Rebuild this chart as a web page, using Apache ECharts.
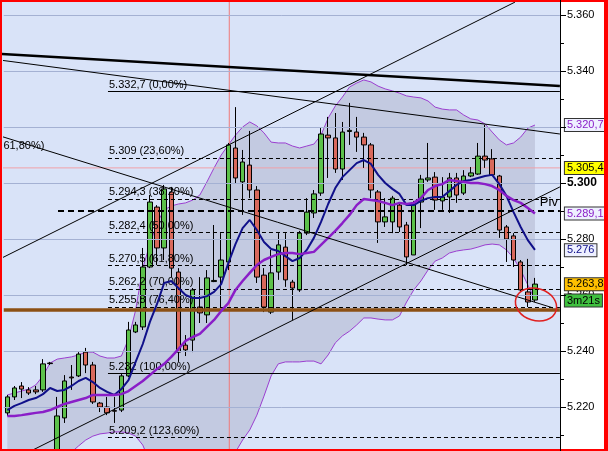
<!DOCTYPE html>
<html><head><meta charset="utf-8">
<script src="https://cdn.jsdelivr.net/npm/echarts/dist/echarts.min.js"></script>
<style>html,body{margin:0;padding:0;background:#fff;overflow:hidden}#c{width:608px;height:451px}</style>
</head><body><div id="c"></div>
<script>
const FONT = "'Liberation Sans', Arial, sans-serif";

const categories = ['1','2','3','4','5','6','7','8','9','10','11','12','13','14','15','16','17','18','19','20',
 '21','22','23','24','25','26','27','28','29','30','31','32','33','34','35','36','37','38','39','40',
 '41','42','43','44','45','46','47','48','49','50','51','52','53','54','55','56','57','58','59','60',
 '61','62','63','64','65','66','67','68','69','70','71','72','73','74','75','','',''];

const opens = [5.2179,5.2236,5.2275,5.2261,5.2261,5.2261,5.2357,5.2039,5.2161,5.2307,
 5.2311,5.2396,5.2350,5.2214,5.2200,5.2187,5.2189,5.2311,5.2468,5.2486,
 5.2700,5.2914,5.2768,5.2968,5.2682,5.2421,5.2439,5.2557,5.2529,5.2648,
 5.2664,5.2718,5.3125,5.3004,5.3064,5.2975,5.2671,5.2539,5.2682,5.2771,
 5.2646,5.2618,5.2821,5.2893,5.2964,5.3171,5.3161,5.3050,5.3184,5.3182,
 5.3164,5.3136,5.2968,5.2861,5.2861,5.2921,5.2850,5.2743,5.2932,5.3011,
 5.3021,5.2936,5.2950,5.3018,5.2964,5.3025,5.3032,5.3096,5.3086,5.3025,
 5.2843,5.2811,5.2718,5.2611,5.2582];
const highs = [5.2243,5.2275,5.2289,5.2271,5.2275,5.2371,5.2361,5.2236,5.2314,5.2350,
 5.2396,5.2411,5.2361,5.2218,5.2236,5.2236,5.2321,5.2504,5.2504,5.2768,
 5.2957,5.2921,5.2993,5.2986,5.2696,5.2457,5.2625,5.2664,5.2689,5.2850,
 5.2821,5.3143,5.3271,5.3118,5.3186,5.2989,5.2696,5.2761,5.2821,5.2821,
 5.2654,5.2829,5.2946,5.2975,5.3200,5.3236,5.3250,5.3218,5.3286,5.3236,
 5.3179,5.3143,5.2975,5.2946,5.2954,5.2932,5.2861,5.2936,5.3029,5.3143,
 5.3039,5.3021,5.3036,5.3036,5.3046,5.3057,5.3143,5.3207,5.3121,5.3029,
 5.2850,5.2821,5.2725,5.2729,5.2661];
const lows = [5.2168,5.2225,5.2232,5.2243,5.2246,5.2254,5.2350,5.2030,5.2143,5.2261,
 5.2307,5.2321,5.2211,5.2182,5.2171,5.2143,5.2182,5.2307,5.2464,5.2475,
 5.2696,5.2707,5.2725,5.2664,5.2361,5.2382,5.2396,5.2500,5.2500,5.2646,
 5.2557,5.2689,5.3000,5.2886,5.2946,5.2643,5.2539,5.2532,5.2654,5.2629,
 5.2511,5.2611,5.2814,5.2875,5.2954,5.3018,5.3036,5.3011,5.3136,5.3111,
 5.3054,5.2946,5.2786,5.2843,5.2821,5.2825,5.2707,5.2743,5.2839,5.3004,
 5.2904,5.2904,5.2893,5.2929,5.2957,5.3021,5.3029,5.3054,5.3025,5.2804,
 5.2718,5.2700,5.2611,5.2557,5.2575];
const closes = [5.2236,5.2268,5.2264,5.2250,5.2254,5.2354,5.2355,5.2168,5.2293,5.2304,
 5.2389,5.2350,5.2218,5.2200,5.2179,5.2185,5.2311,5.2475,5.2493,5.2700,
 5.2932,5.2768,5.2979,5.2696,5.2396,5.2404,5.2618,5.2536,5.2661,5.2652,
 5.2725,5.3136,5.3018,5.3075,5.2975,5.2664,5.2557,5.2679,5.2779,5.2654,
 5.2625,5.2821,5.2896,5.2961,5.3175,5.3161,5.3050,5.3182,5.3188,5.3164,
 5.3136,5.2975,5.2861,5.2879,5.2946,5.2843,5.2736,5.2929,5.3014,5.3018,
 5.2939,5.2950,5.3018,5.2957,5.3025,5.3036,5.3096,5.3082,5.3029,5.2832,
 5.2800,5.2725,5.2618,5.2575,5.2639];

const maFast = [5.2189,5.2204,5.2214,5.2225,5.2232,5.2246,5.2268,5.2257,5.2261,5.2275,
 5.2293,5.2304,5.2289,5.2268,5.2254,5.2243,5.2264,5.2296,5.2361,5.2425,
 5.2504,5.2568,5.2643,5.2650,5.2625,5.2600,5.2589,5.2589,5.2596,5.2611,
 5.2639,5.2714,5.2782,5.2839,5.2868,5.2832,5.2789,5.2764,5.2757,5.2739,
 5.2721,5.2732,5.2761,5.2804,5.2861,5.2925,5.2982,5.3021,5.3046,5.3071,
 5.3082,5.3068,5.3029,5.3000,5.2979,5.2961,5.2921,5.2921,5.2936,5.2946,
 5.2950,5.2950,5.2971,5.2993,5.3007,5.3011,5.3018,5.3025,5.3029,5.2996,
 5.2954,5.2896,5.2843,5.2796,5.2761];
const maSlow = [5.2168,5.2168,5.2171,5.2175,5.2179,5.2182,5.2189,5.2200,5.2211,5.2218,
 5.2225,5.2232,5.2243,5.2243,5.2243,5.2243,5.2246,5.2257,5.2275,5.2293,
 5.2314,5.2336,5.2354,5.2379,5.2407,5.2436,5.2450,5.2461,5.2486,5.2511,
 5.2543,5.2571,5.2618,5.2650,5.2679,5.2707,5.2725,5.2736,5.2746,5.2750,
 5.2750,5.2746,5.2750,5.2754,5.2779,5.2804,5.2829,5.2857,5.2886,5.2921,
 5.2943,5.2939,5.2936,5.2929,5.2921,5.2929,5.2925,5.2929,5.2946,5.2975,
 5.2989,5.2996,5.3011,5.3007,5.3004,5.3000,5.3000,5.2996,5.2989,5.2975,
 5.2954,5.2939,5.2929,5.2911,5.2891];
const bandUpper = [5.2243,5.2250,5.2257,5.2264,5.2279,5.2311,5.2357,5.2371,5.2375,5.2379,
 5.2386,5.2396,5.2396,5.2382,5.2375,5.2375,5.2382,5.2443,5.2546,5.2696,
 5.2782,5.2857,5.2904,5.2918,5.2925,5.2929,5.2939,5.2957,5.3004,5.3054,
 5.3100,5.3136,5.3171,5.3200,5.3218,5.3204,5.3179,5.3146,5.3143,5.3143,
 5.3132,5.3125,5.3132,5.3139,5.3171,5.3232,5.3275,5.3307,5.3343,5.3357,
 5.3368,5.3361,5.3346,5.3336,5.3329,5.3321,5.3311,5.3307,5.3304,5.3293,
 5.3271,5.3264,5.3261,5.3261,5.3243,5.3229,5.3225,5.3211,5.3182,5.3154,
 5.3136,5.3143,5.3164,5.3196,5.3207];
const bandLower = [5.2011,5.2018,5.2025,5.2029,5.2025,5.2018,5.2011,5.2004,5.2018,5.2039,
 5.2061,5.2082,5.2096,5.2104,5.2107,5.2111,5.2111,5.2107,5.2096,5.2064,
 5.2004,5.1946,5.1896,5.1868,5.1850,5.1850,5.1857,5.1868,5.1886,5.1911,
 5.1946,5.1989,5.2039,5.2082,5.2118,5.2171,5.2239,5.2311,5.2354,5.2361,
 5.2361,5.2361,5.2364,5.2364,5.2354,5.2386,5.2429,5.2454,5.2471,5.2493,
 5.2518,5.2518,5.2514,5.2511,5.2511,5.2525,5.2575,5.2618,5.2650,5.2689,
 5.2721,5.2732,5.2750,5.2757,5.2761,5.2764,5.2771,5.2779,5.2782,5.2779,
 5.2761,5.2732,5.2689,5.2636,5.2582];

const fibLevels = [5.3327,5.3090,5.2943,5.2824,5.2705,5.2622,5.2558,5.2320,5.2092];
const fibLabels = ['5.332,7 (0,00%)','5.309 (23,60%)','5.294,3 (38,20%)','5.282,4 (50,00%)','5.270,5 (61,80%)','5.262,2 (70,00%)','5.255,8 (76,40%)','5.232 (100,00%)','5.209,2 (123,60%)'];
const fibSolid = [true,false,false,false,false,false,false,true,false];
const fibStart = 14.12;

const trendThick = [[-1.02,5.3461],[77.5,5.3346]];
const trendThin1 = [[-1.02,5.3439],[77.5,5.3175]];
const trendThin2 = [[-1.02,5.3168],[76.53,5.2554]];
const channelUp = [[-1.02,5.2729],[71.2,5.3646]];
const channelLow = [[-1.02,5.1988],[77.5,5.2986]];

const gridLevels = [5.22,5.24,5.26,5.28,5.30,5.32,5.34,5.36];
const tickLevels = [5.21,5.22,5.23,5.24,5.25,5.26,5.27,5.28,5.29,5.30,5.31,5.32,5.33,5.34,5.35,5.36];

const pivot = 5.2900, pivotStart = 7.11;
const support = 5.2546;
const crossX = 31.13, crossY = 5.3054;
const crossV = [[crossX,5.20],[crossX,5.38]];
const crossH = [[-1.02,crossY],[77.5,crossY]];
const lastPrice = 5.2638, timer = '3m21s', timerLevel = 5.2580;

const chart = echarts.init(document.getElementById('c'), null, {renderer:'canvas'});

const candleData = categories.map((c,i)=> i<opens.length ? [opens[i],closes[i],lows[i],highs[i]] : '-');
const bandWidth = bandUpper.map((u,i)=> u - bandLower[i]);

function boxLabel(text, bg, color){
  return {show:true, position:'end', distance:5, formatter:text, backgroundColor:bg, color:color,
    borderColor:'#333', borderWidth:1, padding:[1,2,0,2], fontSize:11, fontFamily:FONT, opacity:1};
}
const hidden = {color:'rgba(0,0,0,0)', width:1};
function ml(data){ return {symbol:['none','none'], silent:true, animation:false, precision:6, data:data}; }

const fibMarks = fibLevels.map((v,i)=>[
  {coord:[fibStart,v], lineStyle:{color:'#000', width:1, type: fibSolid[i]?'solid':[4,3]},
   label:{show:true, position:'insideStartTop', distance:[1,1], formatter:fibLabels[i], color:'#000', fontSize:11, fontFamily:FONT}},
  {coord:[77.5,v]}
]);

const option = {
  animation:false,
  backgroundColor:'#d9e3f8',
  grid:{left:3.74, right:48.1, top:-41, bottom:-12, containLabel:false, outerBoundsMode:'none'},
  xAxis:[
    {type:'category', data:categories, boundaryGap:true, show:false},
    {type:'value', min:-0.5, max:77.5, show:false}
  ],
  yAxis:{type:'value', position:'right', min:5.20, max:5.38, interval:0.02,
    axisLine:{show:false}, axisTick:{show:false}, splitLine:{show:false},
    axisLabel:{margin:7, color:'#000', fontSize:11, fontFamily:FONT,
      formatter:function(v){const s=v.toFixed(3); return Math.abs(v-5.3)<1e-9 ? '{b|'+s+'}' : s;},
      rich:{b:{fontWeight:'bold', fontSize:12, color:'#000', fontFamily:FONT}}}
  },
  series:[
    {name:'gridHost', type:'line', xAxisIndex:1, data:[[-0.5,5.3],[77.5,5.3]], symbol:'none', lineStyle:{width:1, color:'rgba(0,0,0,0)'}, z:1,
      markLine: ml(gridLevels.map(v=>({yAxis:v, lineStyle:{color:'#a4b1d3', width:1, type:'solid', opacity:1}, label:{show:false}})))},
    {name:'bandBase', type:'line', xAxisIndex:0, stack:'bb', data:bandLower, symbol:'none', lineStyle:{width:0, color:'rgba(0,0,0,0)'}, z:1},
    {name:'bandFill', type:'line', xAxisIndex:0, stack:'bb', data:bandWidth, symbol:'none', lineStyle:{width:0, color:'rgba(0,0,0,0)'},
      areaStyle:{color:'rgba(110,105,135,0.2)', opacity:1}, z:1},
    {name:'upper', type:'line', xAxisIndex:0, data:bandUpper, symbol:'none', lineStyle:{color:'#9b3fd0', width:1}, z:2,
      markLine: ml([{yAxis:5.3207, lineStyle:hidden, label:boxLabel('5.320,7','#eef0ff','#8a1ec8')}])},
    {name:'lower', type:'line', xAxisIndex:0, data:bandLower, symbol:'none', lineStyle:{color:'#9b3fd0', width:1}, z:2},
    {name:'crossV', type:'line', xAxisIndex:1, data:crossV, symbol:'none', lineStyle:{color:'#f07878', width:1}, z:2},
    {name:'crossH', type:'line', xAxisIndex:1, data:crossH, symbol:'none', lineStyle:{color:'#f0a0a8', width:1}, z:2},
    {name:'candles', type:'candlestick', xAxisIndex:0, data:candleData, barWidth:5, z:3,
      itemStyle:{color:'#5cc14a', color0:'#d9695b', borderColor:'#000', borderColor0:'#000', borderWidth:1},
      markLine: ml([
        {yAxis:crossY, lineStyle:hidden, label:boxLabel('5.305,4','#ffff00','#000')},
        {yAxis:lastPrice, lineStyle:hidden, label:boxLabel('5.263,8','#ffc000','#000')},
        {yAxis:timerLevel, lineStyle:hidden, label:boxLabel(timer,'#3fc03f','#000')}
      ])},
    {name:'maFast', type:'line', xAxisIndex:0, data:maFast, symbol:'none', lineStyle:{color:'#10108a', width:2}, z:5,
      markLine: ml([{yAxis:5.2760, lineStyle:hidden, label:boxLabel('5.276','#eef0ff','#10108a')}])},
    {name:'maSlow', type:'line', xAxisIndex:0, data:maSlow, symbol:'none', lineStyle:{color:'#8a1ec8', width:2.5}, z:5,
      markLine: ml([{yAxis:5.2891, lineStyle:hidden, label:boxLabel('5.289,1','#eef0ff','#8a1ec8')}])},
    {name:'trendThick', type:'line', xAxisIndex:1, data:trendThick, symbol:'none', lineStyle:{color:'#000', width:2.5}, z:6,
      markLine: ml([
        ...fibMarks,
        [{coord:[pivotStart,pivot], lineStyle:{color:'#000', width:2, type:[6,4]},
          label:{show:true, position:'insideEndTop', distance:[2,2], formatter:'Piv', color:'#000', fontSize:13, fontFamily:FONT}},
         {coord:[77.5,pivot]}],
        {yAxis:support, lineStyle:{color:'#8c5014', width:3.5, type:'solid'}, label:{show:false}}
      ])},
    {name:'trendThin1', type:'line', xAxisIndex:1, data:trendThin1, symbol:'none', lineStyle:{color:'#000', width:1}, z:6},
    {name:'trendThin2', type:'line', xAxisIndex:1, data:trendThin2, symbol:'none', lineStyle:{color:'#000', width:1}, z:6},
    {name:'channelUp', type:'line', xAxisIndex:1, data:channelUp, symbol:'none', lineStyle:{color:'#000', width:1}, z:6},
    {name:'channelLow', type:'line', xAxisIndex:1, data:channelLow, symbol:'none', lineStyle:{color:'#000', width:1}, z:6}
  ]
};
chart.setOption(option);

const px = v => chart.convertToPixel({xAxisIndex:1, yAxisIndex:0}, v);
const axisX = 560;
const ticks = tickLevels.map(v=>{
  const y = Math.round(px([0,v])[1]);
  const major = gridLevels.indexOf(v) >= 0;
  return {type:'rect', z:40, shape:{x:axisX, y:y, width:(major?6:4), height:1}, style:{fill:'#000'}};
});
const ctr = px([74.15, 5.2566]);
const lbl = px([-0.55, 5.3132]);
chart.setOption({graphic:[
  {type:'rect', z:-10, shape:{x:561, y:0, width:48, height:451}, style:{fill:'#ffffff'}},
  {type:'rect', z:40, shape:{x:axisX, y:0, width:1, height:451}, style:{fill:'#000'}},
  ...ticks,
  {type:'text', z:10, x:lbl[0], y:lbl[1], style:{text:'61,80%)', fill:'#000', font:'11px '+FONT, textVerticalAlign:'middle'}},
  {type:'ellipse', z:20, x:ctr[0], y:ctr[1], rotation:-0.3, shape:{cx:0, cy:0, rx:21, ry:16}, style:{fill:'none', stroke:'#e02020', lineWidth:1.5}},
  {type:'rect', z:30, shape:{x:0, y:0, width:608, height:2}, style:{fill:'#ff0000'}},
  {type:'rect', z:30, shape:{x:0, y:0, width:2, height:451}, style:{fill:'#ff0000'}},
  {type:'rect', z:30, shape:{x:604, y:0, width:4, height:451}, style:{fill:'#ff0000'}},
  {type:'rect', z:30, shape:{x:0, y:449, width:608, height:2}, style:{fill:'#ff0000'}}
]});
</script></body></html>
